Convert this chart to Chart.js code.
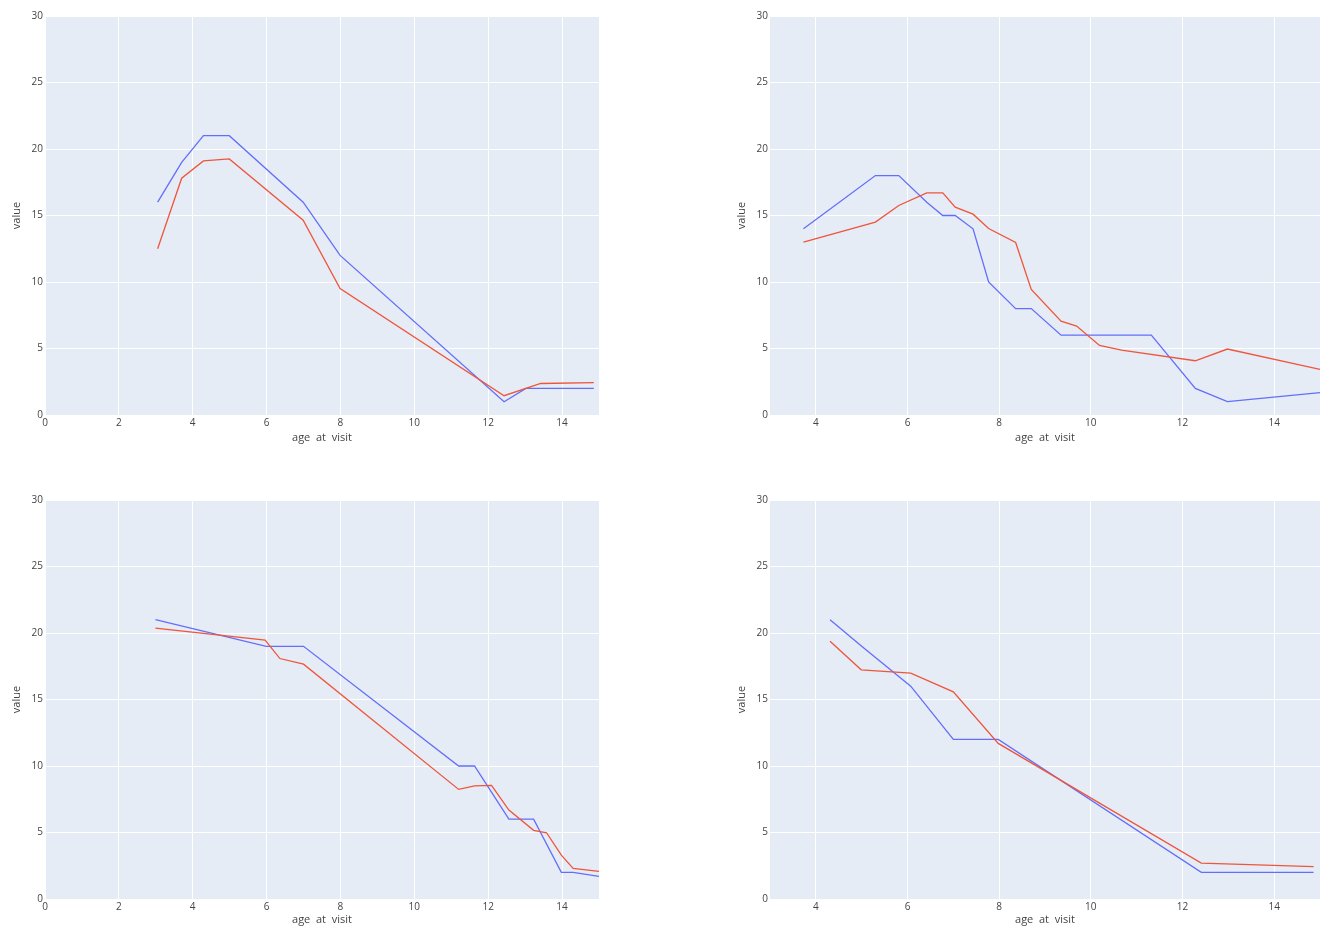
<!DOCTYPE html>
<html>
<head>
<meta charset="utf-8">
<script src="https://cdn.jsdelivr.net/npm/chart.js@4.4.1/dist/chart.umd.min.js"></script>
<style>
 html, body { margin: 0; padding: 0; background: #fff; overflow: hidden; }
 canvas { position: absolute; }
</style>
</head>
<body>
<canvas id="c1" width="610" height="444" style="left:0px;top:0px"></canvas>
<canvas id="c2" width="597" height="444" style="left:725px;top:0px"></canvas>
<canvas id="c3" width="610" height="442" style="left:0px;top:484px"></canvas>
<canvas id="c4" width="597" height="442" style="left:725px;top:484px"></canvas>
<script>
// tick labels
const yTicks = [0, 5, 10, 15, 20, 25, 30];
const xTicksLeft = [0, 2, 4, 6, 8, 10, 12, 14];
const xTicksRight = [4, 6, 8, 10, 12, 14];

// top left
const p1BlueX = [3.05, 3.70, 4.29, 4.99, 6.99, 7.99, 12.43, 13.02, 14.86];
const p1BlueY = [16, 19, 21, 21, 16, 12, 1, 2, 2];
const p1RedX = [3.05, 3.70, 4.29, 4.99, 6.99, 7.99, 12.43, 13.42, 14.86];
const p1RedY = [12.5, 17.8, 19.1, 19.25, 14.65, 9.5, 1.45, 2.37, 2.43];

// top right
const p2BlueX = [3.73, 5.30, 5.81, 6.42, 6.77, 7.04, 7.43, 7.77, 8.36, 8.70, 9.35, 11.32, 12.28, 12.98, 15.0];
const p2BlueY = [14, 18, 18, 16, 15, 15, 14, 10, 8, 8, 6, 6, 2, 1, 1.68];
const p2RedX = [3.73, 5.30, 5.81, 6.42, 6.77, 7.04, 7.43, 7.77, 8.36, 8.70, 9.35, 9.69, 10.19, 10.67, 12.28, 12.98, 15.0];
const p2RedY = [13, 14.5, 15.75, 16.7, 16.7, 15.63, 15.1, 14.02, 12.97, 9.44, 7.06, 6.69, 5.23, 4.88, 4.08, 4.96, 3.43];

// bottom left
const p3BlueX = [2.99, 5.99, 7.0, 11.2, 11.63, 12.56, 13.23, 13.98, 14.3, 15.0];
const p3BlueY = [21, 19, 19, 10, 10, 6, 6, 2, 2, 1.7];
const p3RedX = [2.99, 5.96, 6.36, 7.0, 11.2, 11.63, 12.09, 12.56, 13.23, 13.58, 13.98, 14.3, 15.0];
const p3RedY = [20.36, 19.46, 18.08, 17.66, 8.24, 8.51, 8.54, 6.69, 5.16, 4.98, 3.3, 2.3, 2.08];

// bottom right
const p4BlueX = [4.31, 5.0, 6.07, 7.0, 7.98, 12.41, 14.86];
const p4BlueY = [21, 19, 16, 12, 12, 2, 2];
const p4RedX = [4.31, 4.99, 6.07, 7.0, 7.98, 12.41, 14.86];
const p4RedY = [19.38, 17.23, 16.98, 15.58, 11.7, 2.7, 2.43];

const textColor = "#444444";
const fontFamily = "'Open Sans', sans-serif";

// plot area background
const plotBg = {
 id: "plotBg",
 beforeDraw(chart) {
  const { ctx, chartArea: a } = chart;
  ctx.save();
  ctx.fillStyle = "#E5ECF6";
  ctx.fillRect(a.left, a.top, a.right - a.left, a.bottom - a.top);
  ctx.restore();
 },
};

const toPoints = (xs, ys) => xs.map((x, i) => ({ x: x, y: ys[i] }));

function makeChart(id, blueX, blueY, redX, redY, xMin, xTicks, rightPad, axisH) {
 return new Chart(document.getElementById(id), {
  type: "scatter",
  data: {
   datasets: [
    {
     data: toPoints(redX, redY),
     borderColor: "#EF553B",
     borderWidth: 1.3,
     showLine: true,
     pointRadius: 0,
     tension: 0,
    },
    {
     data: toPoints(blueX, blueY),
     borderColor: "#636EFA",
     borderWidth: 1.3,
     showLine: true,
     pointRadius: 0,
     tension: 0,
    },
   ],
  },
  options: {
   responsive: false,
   animation: false,
   layout: { padding: { top: 16, right: rightPad, left: 0, bottom: 0 } },
   plugins: { legend: { display: false }, tooltip: { enabled: false } },
   scales: {
    x: {
     type: "linear",
     min: xMin,
     max: 15,
     afterBuildTicks: (scale) => { scale.ticks = xTicks.map((v) => ({ value: v })); },
     afterFit: (scale) => { scale.height = axisH; },
     grid: { color: "#ffffff", lineWidth: 1, drawTicks: false },
     border: { display: false },
     ticks: { color: textColor, padding: 2, maxRotation: 0, font: { family: fontFamily, size: 10 } },
     title: { display: true, text: "age  at  visit", color: textColor, padding: { top: 0, bottom: 0 }, font: { family: fontFamily, size: 11 } },
    },
    y: {
     type: "linear",
     min: 0,
     max: 30,
     afterBuildTicks: (scale) => { scale.ticks = yTicks.map((v) => ({ value: v })); },
     afterFit: (scale) => { scale.width = 45; },
     grid: { color: "#ffffff", lineWidth: 1, drawTicks: false },
     border: { display: false },
     ticks: { color: textColor, padding: 2, font: { family: fontFamily, size: 10 } },
     title: { display: true, text: "value", color: textColor, padding: { top: 10, bottom: 0 }, font: { family: fontFamily, size: 11 } },
    },
   },
  },
  plugins: [plotBg],
 });
}

makeChart("c1", p1BlueX, p1BlueY, p1RedX, p1RedY, 0, xTicksLeft, 11, 29);
makeChart("c2", p2BlueX, p2BlueY, p2RedX, p2RedY, 3, xTicksRight, 2, 29);
makeChart("c3", p3BlueX, p3BlueY, p3RedX, p3RedY, 0, xTicksLeft, 11, 27);
makeChart("c4", p4BlueX, p4BlueY, p4RedX, p4RedY, 3, xTicksRight, 2, 27);
</script>
</body>
</html>
